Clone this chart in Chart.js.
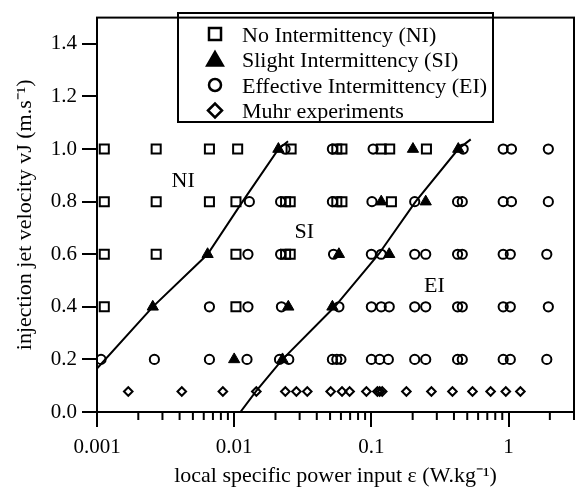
<!DOCTYPE html>
<html>
<head>
<meta charset="utf-8">
<script src="https://cdn.jsdelivr.net/npm/chart.js@4.4.0/dist/chart.umd.min.js"></script>
<style>body{margin:0;background:#fff}</style>
</head>
<body>
<canvas id="myChart" width="583" height="490"></canvas>
<script>
// No Intermittency (squares)
const noIntermittency = [
 {x:0.00113,y:1.0},{x:0.0027,y:1.0},{x:0.0066,y:1.0},{x:0.0106,y:1.0},{x:0.026,y:1.0},{x:0.056,y:1.0},{x:0.061,y:1.0},{x:0.118,y:1.0},{x:0.136,y:1.0},{x:0.252,y:1.0},
 {x:0.00113,y:0.8},{x:0.0027,y:0.8},{x:0.0066,y:0.8},{x:0.0103,y:0.8},{x:0.0237,y:0.8},{x:0.0256,y:0.8},{x:0.056,y:0.8},{x:0.061,y:0.8},{x:0.14,y:0.8},
 {x:0.00113,y:0.6},{x:0.0027,y:0.6},{x:0.0103,y:0.6},{x:0.0237,y:0.6},{x:0.0256,y:0.6},
 {x:0.00113,y:0.4},{x:0.0103,y:0.4}
];
// Slight Intermittency (triangles)
const slightIntermittency = [
 {x:0.021,y:1.0},{x:0.201,y:1.0},{x:0.43,y:1.0},
 {x:0.118,y:0.8},{x:0.249,y:0.8},
 {x:0.0064,y:0.6},{x:0.058,y:0.6},{x:0.135,y:0.6},
 {x:0.00255,y:0.4},{x:0.0248,y:0.4},{x:0.052,y:0.4},
 {x:0.01,y:0.2},{x:0.0225,y:0.2}
];
// Effective Intermittency (circles)
const effectiveIntermittency = [
 {x:0.0235,y:1.0},{x:0.052,y:1.0},{x:0.103,y:1.0},{x:0.467,y:1.0},{x:0.914,y:1.0},{x:1.05,y:1.0},{x:1.95,y:1.0},
 {x:0.0129,y:0.8},{x:0.0218,y:0.8},{x:0.052,y:0.8},{x:0.101,y:0.8},{x:0.207,y:0.8},{x:0.425,y:0.8},{x:0.46,y:0.8},{x:0.914,y:0.8},{x:1.05,y:0.8},{x:1.95,y:0.8},
 {x:0.0126,y:0.6},{x:0.0218,y:0.6},{x:0.053,y:0.6},{x:0.1,y:0.6},{x:0.118,y:0.6},{x:0.207,y:0.6},{x:0.249,y:0.6},{x:0.425,y:0.6},{x:0.46,y:0.6},{x:0.914,y:0.6},{x:1.03,y:0.6},{x:1.9,y:0.6},
 {x:0.0066,y:0.4},{x:0.0126,y:0.4},{x:0.0221,y:0.4},{x:0.058,y:0.4},{x:0.1,y:0.4},{x:0.118,y:0.4},{x:0.135,y:0.4},{x:0.207,y:0.4},{x:0.249,y:0.4},{x:0.425,y:0.4},{x:0.46,y:0.4},{x:0.914,y:0.4},{x:1.03,y:0.4},{x:1.95,y:0.4},
 {x:0.00107,y:0.2},{x:0.00262,y:0.2},{x:0.0066,y:0.2},{x:0.0124,y:0.2},{x:0.0214,y:0.2},{x:0.025,y:0.2},{x:0.052,y:0.2},{x:0.056,y:0.2},{x:0.06,y:0.2},{x:0.1,y:0.2},{x:0.115,y:0.2},{x:0.133,y:0.2},{x:0.207,y:0.2},{x:0.249,y:0.2},{x:0.425,y:0.2},{x:0.46,y:0.2},{x:0.914,y:0.2},{x:1.03,y:0.2},{x:1.9,y:0.2}
];
// Muhr experiments (diamonds)
const muhrX = [0.00169,0.00415,0.00827,0.0145,0.0236,0.0284,0.0341,0.0505,0.0611,0.0694,0.092,0.1107,0.115,0.12,0.18,0.274,0.39,0.546,0.74,0.955,1.22];
const muhrY = 0.078;
// boundary curves
const boundaryNISI = [{x:0.001,y:0.165},{x:0.00255,y:0.4},{x:0.0064,y:0.6},{x:0.0115,y:0.8},{x:0.021,y:1.0},{x:0.0247,y:1.03}];
const boundarySIEI = [{x:0.0111,y:0.0},{x:0.0145,y:0.08},{x:0.0225,y:0.2},{x:0.054,y:0.4},{x:0.113,y:0.6},{x:0.21,y:0.8},{x:0.43,y:1.0},{x:0.53,y:1.037}];
const regionLabels = [{t:'NI',x:0.00425,y:0.878},{t:'SI',x:0.0325,y:0.685},{t:'EI',x:0.288,y:0.48}];

const xMajorTicks = [0.001,0.01,0.1,1];
const xTickLabels = ['0.001','0.01','0.1','1'];
const xMinorSteps = [2,3,4,5,6,7,8,9];
const yTicks = [0,0.2,0.4,0.6,0.8,1.0,1.2,1.4];
const legendLabels = ['No Intermittency (NI)','Slight Intermittency (SI)','Effective Intermittency (EI)','Muhr experiments'];

let xTickValues = [];
xMajorTicks.forEach(function(d){
  xTickValues.push(d);
  xMinorSteps.forEach(function(m){ if (d*m <= 3) xTickValues.push(+(d*m).toPrecision(3)); });
});
function isMajor(v){ return xMajorTicks.indexOf(v) >= 0; }

Chart.defaults.font.family = '"Liberation Serif", "Times New Roman", serif';
Chart.defaults.color = '#000';

const extras = {
  id: 'extras',
  afterDraw(chart){
    const c = chart.ctx, a = chart.chartArea, xs = chart.scales.x, ys = chart.scales.y;
    c.save();
    c.strokeStyle = '#000';
    c.lineWidth = 2;
    c.strokeRect(a.left, a.top, a.right - a.left, a.bottom - a.top);
    xs.ticks.forEach(function(t){
      if (!isMajor(t.value)) {
        const px = xs.getPixelForValue(t.value);
        c.beginPath(); c.moveTo(px, a.bottom); c.lineTo(px, a.bottom + 8); c.stroke();
      }
    });
    c.fillStyle = '#000';
    c.font = '22px "Liberation Serif"';
    c.textAlign = 'center';
    c.textBaseline = 'middle';
    regionLabels.forEach(function(r){ c.fillText(r.t, xs.getPixelForValue(r.x), ys.getPixelForValue(r.y)); });

    // legend
    c.lineWidth = 2;
    c.strokeRect(178, 13, 315, 109);
    const styles = [
      {pointStyle:'rect', radius:8.5, fill:false},
      {pointStyle:'triangle', radius:9, fill:true},
      {pointStyle:'circle', radius:6, fill:false},
      {pointStyle:'rectRot', radius:7, fill:false}
    ];
    c.textAlign = 'left';
    c.textBaseline = 'alphabetic';
    legendLabels.forEach(function(lab, i){
      const cy = 34 + i*25.5;
      c.fillStyle = styles[i].fill ? '#000' : 'rgba(0,0,0,0)';
      c.strokeStyle = '#000';
      c.lineWidth = 2.5;
      Chart.helpers.drawPoint(c, {pointStyle: styles[i].pointStyle, radius: styles[i].radius, borderWidth: 2.5, rotation: 0}, 215, cy + (i==1 ? 1.5 : 0));
      c.fillStyle = '#000';
      c.fillText(lab, 242, cy + 7.5);
    });
    c.restore();
  }
};

const ctx = document.getElementById('myChart');
const myChart = new Chart(ctx, {
  type: 'scatter',
  data: {
    datasets: [
      {label:'NI/SI', data: boundaryNISI, showLine:true, borderColor:'#000', borderWidth:2, pointRadius:0, tension:0},
      {label:'SI/EI', data: boundarySIEI, showLine:true, borderColor:'#000', borderWidth:2, pointRadius:0, tension:0},
      {label: legendLabels[1], data: slightIntermittency, pointStyle:'triangle', pointRadius:6.5, backgroundColor:'#000', borderColor:'#000', borderWidth:1},
      {label: legendLabels[0], data: noIntermittency, pointStyle:'rect', pointRadius:6.4, backgroundColor:'rgba(0,0,0,0)', borderColor:'#000', borderWidth:2},
      {label: legendLabels[2], data: effectiveIntermittency, pointStyle:'circle', pointRadius:4.6, backgroundColor:'rgba(0,0,0,0)', borderColor:'#000', borderWidth:2},
      {label: legendLabels[3], data: muhrX.map(function(v){ return {x:v, y:muhrY}; }), pointStyle:'rectRot', pointRadius:4.3, backgroundColor:'rgba(0,0,0,0)', borderColor:'#000', borderWidth:2}
    ]
  },
  options: {
    responsive: false,
    animation: false,
    layout: {padding: {left:0, top:8, right:9, bottom:0}},
    plugins: {legend:{display:false}, tooltip:{enabled:false}},
    scales: {
      x: {
        type: 'logarithmic',
        min: 0.001, max: 3,
        afterBuildTicks: function(s){ s.ticks = xTickValues.map(function(v){ return {value:v}; }); },
        afterFit: function(s){ s.height = 78; },
        grid: {drawOnChartArea:false, drawTicks:true, tickLength:15, lineWidth:2,
          color: function(c){ return (c.tick && isMajor(c.tick.value)) ? '#000' : 'rgba(0,0,0,0)'; }},
        border: {display:true, color:'#000', width:2},
        ticks: {autoSkip:false, maxRotation:0, padding:8, font:{size:21},
          callback: function(v){ const i = xMajorTicks.indexOf(v); return i >= 0 ? xTickLabels[i] : ''; }},
        title: {display:true, text:'local specific power input ε (W.kg⁻¹)', font:{size:22}, padding:{top:0, bottom:1}}
      },
      y: {
        min: 0, max: 1.5,
        afterBuildTicks: function(s){ s.ticks = yTicks.map(function(v){ return {value:v}; }); },
        afterFit: function(s){ s.width = 97; },
        grid: {drawOnChartArea:false, drawTicks:true, tickLength:15, lineWidth:2, color:'#000'},
        border: {display:true, color:'#000', width:2},
        ticks: {padding:5, font:{size:21}, callback: function(v){ return v.toFixed(1); }},
        title: {display:true, text:'injection jet velocity vJ (m.s⁻¹)', font:{size:22}, padding:{top:12, bottom:0}}
      }
    }
  },
  plugins: [extras]
});
</script>
</body>
</html>
